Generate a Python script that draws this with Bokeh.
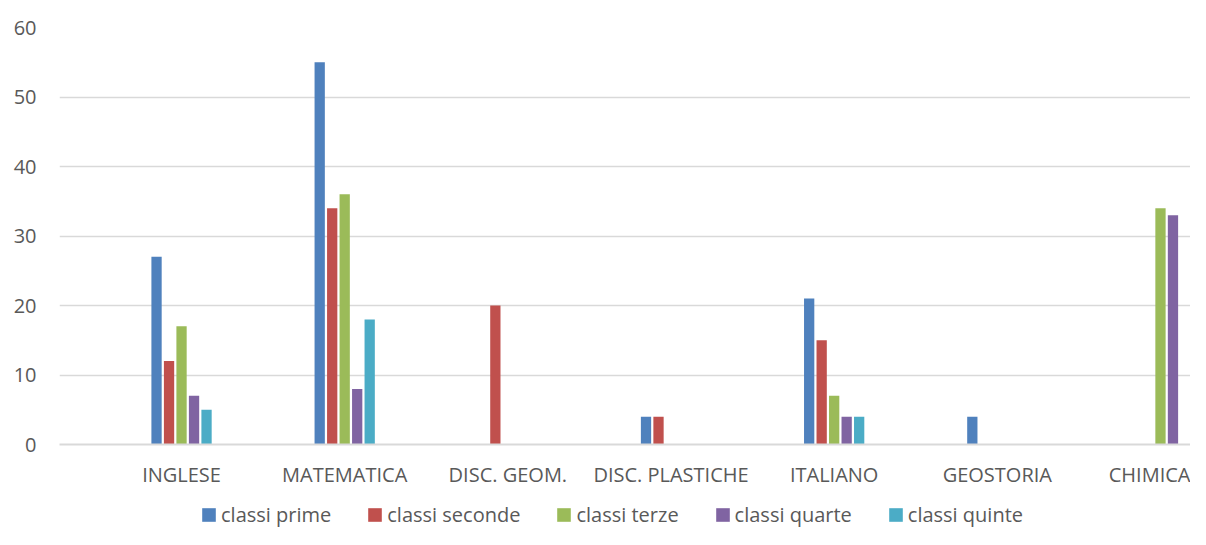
from bokeh.plotting import figure
from bokeh.layouts import column
from bokeh.models import ColumnDataSource, Range1d, FixedTicker, Legend, LegendItem
from bokeh.transform import dodge
from bokeh.embed import file_html
from bokeh.resources import INLINE

categories = ["INGLESE", "MATEMATICA", "DISC. GEOM.", "DISC. PLASTICHE", "ITALIANO", "GEOSTORIA", "CHIMICA"]
series_names = ["classi prime", "classi seconde", "classi terze", "classi quarte", "classi quinte"]
prime = [27, 55, 0, 4, 21, 4, 0]
seconde = [12, 34, 20, 4, 15, 0, 0]
terze = [17, 36, 0, 0, 7, 0, 34]
quarte = [7, 8, 0, 0, 4, 0, 33]
quinte = [5, 18, 0, 0, 4, 0, 0]
y_ticks = [0, 10, 20, 30, 40, 50, 60]

colors = ["#4F81BD", "#C0504D", "#9BBB59", "#8064A2", "#4BACC6"]
FONT = "Open Sans"
TXT = "#595959"

source = ColumnDataSource(data=dict(
    x=list(range(len(categories))),
    prime=prime, seconde=seconde, terze=terze, quarte=quarte, quinte=quinte,
))

p = figure(width=1190, height=490, output_backend="svg", toolbar_location=None,
           x_range=Range1d(-0.748, 6.184), y_range=Range1d(0, 60),
           min_border_left=59, min_border_right=0, min_border_top=27, min_border_bottom=46)
p.outline_line_color = None
p.background_fill_color = "white"
p.border_fill_color = "white"

pitch = 0.0766
keys = ["prime", "seconde", "terze", "quarte", "quinte"]
for i, (k, c) in enumerate(zip(keys, colors)):
    p.vbar(x=dodge("x", (i - 2) * pitch, range=p.x_range), top=k, width=0.063,
           source=source, fill_color=c, line_color=None)

p.xgrid.grid_line_color = None
p.ygrid.grid_line_color = "#d9d9d9"
p.ygrid.grid_line_width = 1.5
p.yaxis.ticker = FixedTicker(ticks=y_ticks)
p.xaxis.ticker = FixedTicker(ticks=list(range(len(categories))))
p.xaxis.major_label_overrides = {i: c for i, c in enumerate(categories)}

for ax in (p.xaxis, p.yaxis):
    ax.major_tick_line_color = None
    ax.minor_tick_line_color = None
    ax.major_tick_out = 0
    ax.major_tick_in = 0
    ax.major_label_text_font = FONT
    ax.major_label_text_font_size = "20px"
    ax.major_label_text_color = TXT
p.yaxis.axis_line_color = None
p.xaxis.axis_line_color = "#d9d9d9"
p.xaxis.axis_line_width = 2
p.yaxis.major_label_standoff = 23
p.xaxis.major_label_standoff = 16

# legend strip below the chart (its glyphs lie outside its visible range)
pl = figure(width=1190, height=39, output_backend="svg", toolbar_location=None,
            x_range=Range1d(-10, -9), y_range=Range1d(0, 1),
            x_axis_location=None, y_axis_location=None,
            min_border_left=0, min_border_right=0, min_border_top=0, min_border_bottom=0)
pl.outline_line_color = None
pl.xgrid.grid_line_color = None
pl.ygrid.grid_line_color = None
pl.border_fill_color = "white"
pl.background_fill_color = "white"
leg_renderers = [pl.quad(left="x", right="x", bottom=0, top=k, source=source,
                         fill_color=c, line_color=None)
                 for k, c in zip(keys, colors)]

legend = Legend(items=[LegendItem(label=n, renderers=[r]) for n, r in zip(series_names, leg_renderers)],
                orientation="horizontal", location=(141, 1))
legend.label_text_font = FONT
legend.label_text_font_size = "20px"
legend.label_text_color = TXT
legend.glyph_width = 17
legend.glyph_height = 17
legend.label_standoff = 4
legend.spacing = 35
legend.padding = 0
legend.margin = 0
legend.border_line_color = None
legend.background_fill_alpha = 0
pl.add_layout(legend, "center")

layout = column(p, pl, spacing=0)
open("out.html", "w").write(file_html(layout, INLINE))
